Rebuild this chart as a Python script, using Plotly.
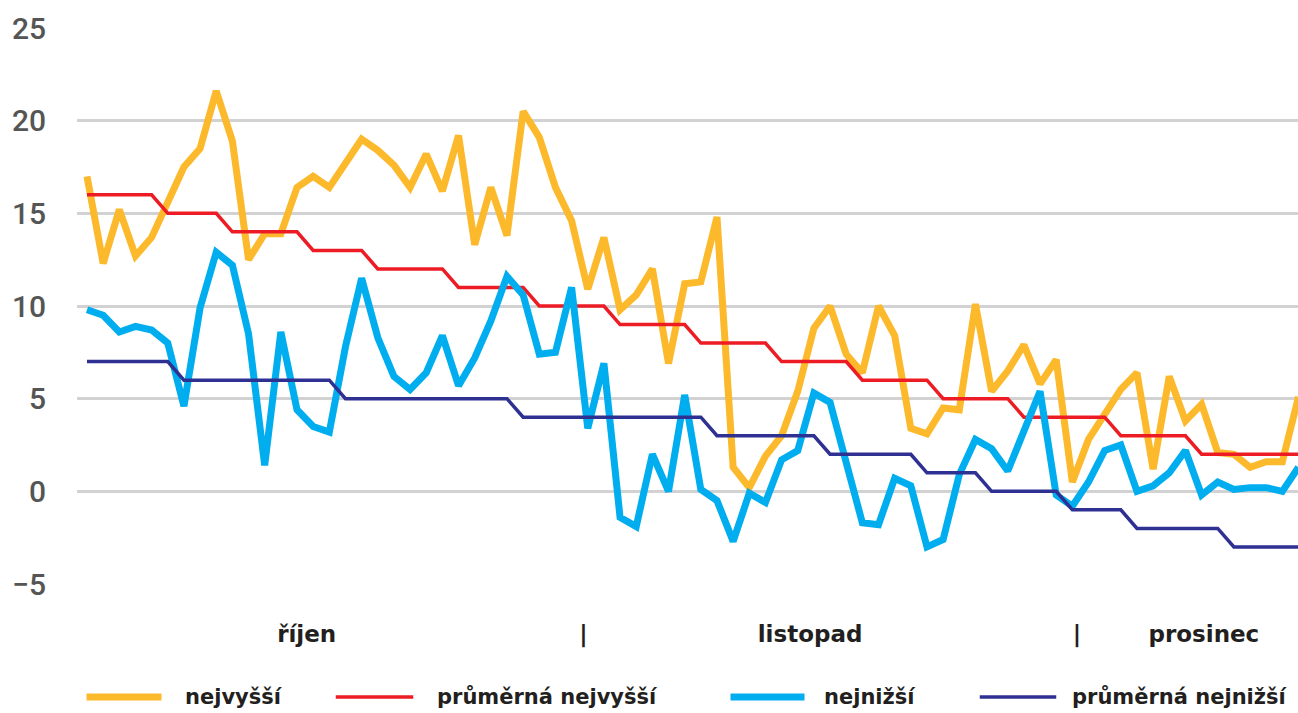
import plotly.graph_objects as go

# ---- data (index 0 = 1 Oct, one value per day) ----
nejvyssi = [17.0, 12.3, 15.2, 12.7, 13.7, 15.6, 17.5, 18.5, 21.6, 18.9, 12.5, 13.9, 13.9, 16.4, 17.0, 16.4,
            17.7, 19.0, 18.4, 17.6, 16.4, 18.2, 16.2, 19.2, 13.3, 16.4, 13.8, 20.5, 19.1, 16.4, 14.6,
            10.9, 13.7, 9.8, 10.6, 12.0, 6.9, 11.2, 11.3, 14.8, 1.3, 0.2, 1.9, 3.0, 5.4, 8.8,
            10.0, 7.4, 6.4, 10.0, 8.4, 3.4, 3.1, 4.5, 4.4, 10.1, 5.4, 6.5, 7.9, 5.8, 7.1, 0.5,
            2.8, 4.2, 5.5, 6.4, 1.2, 6.2, 3.8, 4.7, 2.1, 2.0, 1.3, 1.6, 1.6, 5.1]
nejnizsi = [9.8, 9.5, 8.6, 8.9, 8.7, 8.0, 4.6, 9.9, 12.9, 12.2, 8.5, 1.4, 8.6, 4.4, 3.5, 3.2,
            7.8, 11.5, 8.3, 6.2, 5.5, 6.4, 8.4, 5.7, 7.2, 9.2, 11.6, 10.6, 7.4, 7.5, 11.0,
            3.4, 6.9, -1.4, -1.9, 2.0, 0.0, 5.2, 0.1, -0.5, -2.7, -0.1, -0.6, 1.7, 2.2, 5.3,
            4.8, 1.5, -1.7, -1.8, 0.7, 0.3, -3.0, -2.6, 0.9, 2.8, 2.3, 1.1, 3.2, 5.4, -0.2, -0.8,
            0.5, 2.2, 2.5, 0.0, 0.3, 1.0, 2.2, -0.2, 0.5, 0.1, 0.2, 0.2, 0.0, 1.3]
prum_nejvyssi = [16, 16, 16, 16, 16, 15, 15, 15, 15, 14, 14, 14, 14, 14, 13, 13, 13, 13,
                 12, 12, 12, 12, 12, 11, 11, 11, 11, 11, 10, 10, 10, 10, 10, 9, 9, 9, 9, 9,
                 8, 8, 8, 8, 8, 7, 7, 7, 7, 7, 6, 6, 6, 6, 6, 5, 5, 5, 5, 5,
                 4, 4, 4, 4, 4, 4, 3, 3, 3, 3, 3, 2, 2, 2, 2, 2, 2, 2]
prum_nejnizsi = [7, 7, 7, 7, 7, 7, 6, 6, 6, 6, 6, 6, 6, 6, 6, 6, 5, 5, 5, 5, 5, 5, 5, 5, 5, 5, 5,
                 4, 4, 4, 4, 4, 4, 4, 4, 4, 4, 4, 4, 3, 3, 3, 3, 3, 3, 3, 2, 2, 2, 2, 2, 2,
                 1, 1, 1, 1, 0, 0, 0, 0, 0, -1, -1, -1, -1, -2, -2, -2, -2, -2, -2, -3, -3, -3, -3, -3]
days = list(range(len(nejvyssi)))

month_pos = [13.6, 30.73, 44.76, 61.28, 69.14]
month_text = ["říjen", "|", "listopad", "|", "prosinec"]

y_ticks = [-5, 0, 5, 10, 15, 20, 25]

series = [
    ("nejvyšší", nejvyssi, "#FDB92C", 7),
    ("průměrná nejvyšší", prum_nejvyssi, "#ED1C24", 3.5),
    ("nejnižší", nejnizsi, "#00AEEF", 7),
    ("průměrná nejnižší", prum_nejnizsi, "#2E3192", 3.5),
]

fig = go.Figure()
for name, vals, color, w in series:
    fig.add_trace(go.Scatter(x=days, y=vals, mode="lines", name=name,
                             line=dict(color=color, width=w, shape="linear"),
                             showlegend=False))

W, H = 1298, 713
ml, mr, mt, mb = 77, 0, 28, 129
pw = W - ml - mr
ph = H - mt - mb

def px_to_paper_x(px):
    return (px - ml) / pw

def py_to_paper_y(py):
    return (H - mb - py) / ph

# custom legend (long line samples as in the reference)
legend_items = [
    (83, 165, 183),
    (334, 415, 435),
    (727, 808, 822),
    (978, 1058, 1070),
]
shapes = []
annotations = []
ly = py_to_paper_y(697)
for (name, vals, color, w), (x0, x1, tx) in zip(series, legend_items):
    shapes.append(dict(type="line", xref="paper", yref="paper",
                       x0=px_to_paper_x(x0 + w / 2), x1=px_to_paper_x(x1 - w / 2),
                       y0=ly, y1=ly, line=dict(color=color, width=w)))
    annotations.append(dict(text=name, xref="paper", yref="paper",
                            x=px_to_paper_x(tx), y=ly, xanchor="left", yanchor="middle",
                            showarrow=False,
                            font=dict(family="DejaVu Sans", size=21, color="#231F20", weight="bold")))

fig.update_layout(
    width=W, height=H,
    margin=dict(l=ml, r=mr, t=mt, b=mb),
    paper_bgcolor="white", plot_bgcolor="white",
    showlegend=False,
    shapes=shapes, annotations=annotations,
    xaxis=dict(range=[-10 / 16.14, (W - 1 - 87) / 16.14], showgrid=False, zeroline=False,
               showline=False, ticks="", tickmode="array", tickvals=month_pos, ticktext=month_text,
               tickangle=0, ticklabelstandoff=34,
               tickfont=dict(family="DejaVu Sans", size=23, color="#231F20", weight="bold")),
    yaxis=dict(range=[-5, 25], tickmode="array", tickvals=y_ticks, showgrid=True,
               gridcolor="#D2D2D2", gridwidth=2.5, zeroline=False, showline=False, ticks="",
               ticklabelstandoff=30,
               tickfont=dict(family="Roboto", size=30, color="#555555", weight=500)),
)

fig.write_html("out.html", config={"displayModeBar": False},
               post_script="document.body.style.margin='0';document.body.style.overflow='hidden';")
